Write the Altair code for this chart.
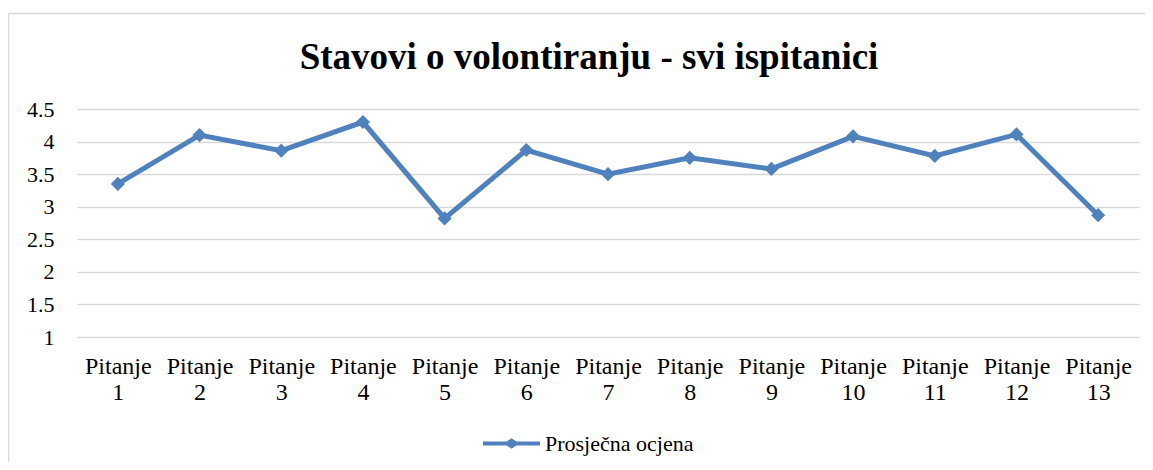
import altair as alt
import pandas as pd

categories = [f"Pitanje {i}" for i in range(1, 14)]
values = [3.35, 4.10, 3.86, 4.30, 2.82, 3.87, 3.50, 3.75, 3.58, 4.08, 3.78, 4.11, 2.87]
series_name = "Prosječna ocjena"
y_ticks = [1, 1.5, 2, 2.5, 3, 3.5, 4, 4.5]

df = pd.DataFrame({"q": categories, "v": values, "s": [series_name] * len(values)})

FONT = "Liberation Serif"
BLUE = "#4F81BD"
GRID = "#D9D9D9"

legend_path = ("M-1,-0.07L-0.17,-0.07L0,-0.18L0.17,-0.07L1,-0.07L1,0.07"
               "L0.17,0.07L0,0.18L-0.17,0.07L-1,0.07Z")

x_enc = alt.X("q:N", sort=categories, title=None,
              axis=alt.Axis(labelAngle=0, labelExpr="split(datum.label, ' ')",
                            labelFont=FONT, labelFontSize=24, labelColor="black",
                            labelLineHeight=26, labelPadding=17, ticks=False,
                            domain=False, grid=False))
y_enc = alt.Y("v:Q", title=None,
              scale=alt.Scale(domain=[1, 4.5], nice=False, zero=False),
              axis=alt.Axis(values=y_ticks, format="~g", labelFont=FONT,
                            labelFontSize=22, labelColor="black", labelPadding=23,
                            ticks=False, domain=False, gridColor=GRID,
                            gridWidth=1.5))
color_enc = alt.Color("s:N", title=None,
                      scale=alt.Scale(range=[BLUE]),
                      legend=alt.Legend(orient="none", legendX=406, legendY=306,
                                        symbolType=legend_path, symbolSize=3249,
                                        symbolFillColor=BLUE, symbolStrokeWidth=0,
                                        labelFont=FONT, labelFontSize=22,
                                        labelColor="black", labelOffset=5))

line = alt.Chart(df).mark_line(strokeWidth=5).encode(x=x_enc, y=y_enc, color=color_enc)
points = alt.Chart(df).mark_point(shape="diamond", filled=True, size=200, opacity=1).encode(
    x=x_enc, y=y_enc, color=color_enc)

frame_df = pd.DataFrame({"a": [0]})
top_border = alt.Chart(frame_df).mark_rule(color=GRID, strokeWidth=1.5).encode(
    x=alt.value(-68.5), x2=alt.value(1080), y=alt.value(-95.5))
left_border = alt.Chart(frame_df).mark_rule(color=GRID, strokeWidth=1.5).encode(
    x=alt.value(-68.5), y=alt.value(-95.5), y2=alt.value(360))

chart = alt.layer(top_border, left_border, line, points).properties(
    width=1062, height=228,
    title=alt.TitleParams("Stavovi o volontiranju - svi ispitanici", font=FONT,
                          fontSize=37, fontWeight="bold", color="black",
                          anchor="middle", dx=-19, offset=-64),
    autosize=alt.AutoSizeParams(type="none"),
    padding={"left": 69, "top": 101, "right": 6, "bottom": 125},
).configure_view(stroke=None)

chart.save("out.html", embed_options={"renderer": "svg", "actions": False})
